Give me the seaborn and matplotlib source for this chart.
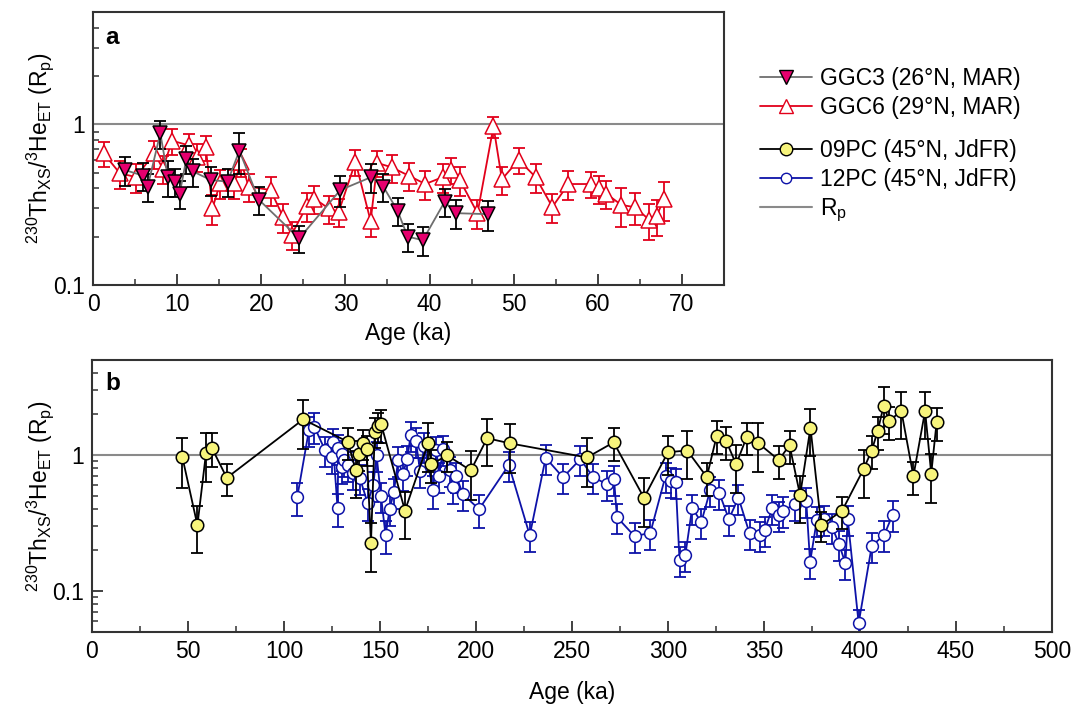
import numpy as np
import pandas as pd
import matplotlib
matplotlib.use("Agg")
import matplotlib.pyplot as plt
import seaborn as sns
from matplotlib.lines import Line2D
from matplotlib.ticker import FixedLocator, LogLocator, NullFormatter, MultipleLocator, FuncFormatter

# ---- data (age in ka, value in Rp, relative 1-sigma) ----
ggc3_age = [3.75, 5.9, 6.5, 8.0, 8.9, 9.7, 10.3, 11.1, 11.85, 14.0, 16.0, 17.4, 19.7,
            24.5, 29.4, 33.1, 34.5, 36.2, 37.4, 39.2, 41.8, 43.1, 46.9]
ggc3_val = [0.52, 0.48, 0.41, 0.88, 0.47, 0.44, 0.37, 0.61, 0.51, 0.45, 0.44, 0.685, 0.34,
            0.195, 0.39, 0.47, 0.41, 0.29, 0.20, 0.19, 0.33, 0.28, 0.276]
ggc3_err = [0.2, 0.2, 0.2, 0.2, 0.25, 0.2, 0.2, 0.2, 0.2, 0.2, 0.2, 0.28, 0.2,
            0.19, 0.22, 0.2, 0.2, 0.2, 0.2, 0.2, 0.2, 0.2, 0.21]

ggc6_age = [1.26, 3.2, 5.1, 7.3, 8.3, 9.4, 11.4, 12.4, 13.4, 14.2, 15.1, 16.8, 17.6, 18.5,
            21.1, 22.6, 23.6, 25.4, 26.3, 28.0, 29.2, 31.2, 33.0, 33.8, 35.5, 37.5, 39.5,
            41.6, 42.6, 43.6, 45.7, 47.6, 48.6, 50.6, 52.6, 54.6, 56.5, 59.2, 60.1, 61.0,
            62.8, 64.4, 66.1, 67.0, 67.9]
ggc6_val = [0.66, 0.495, 0.47, 0.66, 0.53, 0.79, 0.74, 0.63, 0.72, 0.30, 0.43, 0.43, 0.585, 0.41,
            0.39, 0.265, 0.205, 0.31, 0.345, 0.30, 0.285, 0.585, 0.25, 0.575, 0.54, 0.48, 0.425,
            0.47, 0.52, 0.45, 0.28, 0.97, 0.455, 0.60, 0.47, 0.306, 0.425, 0.425, 0.40, 0.37,
            0.315, 0.305, 0.255, 0.27, 0.345]
ggc6_err = [0.18, 0.2, 0.2, 0.2, 0.2, 0.18, 0.18, 0.2, 0.18, 0.21, 0.2, 0.2, 0.2, 0.2,
            0.2, 0.2, 0.2, 0.2, 0.2, 0.2, 0.2, 0.18, 0.2, 0.18, 0.2, 0.2, 0.2,
            0.2, 0.18, 0.2, 0.2, 0.15, 0.2, 0.18, 0.2, 0.2, 0.2, 0.18, 0.2, 0.2,
            0.27, 0.22, 0.25, 0.25, 0.27]

pc09_age = [47.1, 54.9, 59.4, 62.4, 70.2, 110.0, 133.3, 137.3, 139.0, 141.3, 143.0, 145.3,
            147.3, 148.7, 150.6, 163.0, 175.1, 176.8, 185.0, 197.3, 205.8, 217.6, 257.8,
            271.7, 287.5, 300.0, 310.0, 320.2, 325.4, 330.3, 335.5, 341.0, 346.8, 357.7,
            363.3, 368.8, 374.2, 379.8, 390.7, 401.9, 406.1, 409.2, 412.3, 415.3, 421.5,
            427.8, 433.9, 437.1, 439.9]
pc09_val = [0.96, 0.305, 1.04, 1.13, 0.68, 1.83, 1.25, 0.775, 1.02, 1.23, 1.11, 0.227,
            1.49, 1.63, 1.69, 0.39, 1.23, 0.855, 0.995, 0.77, 1.33, 1.22, 0.96,
            1.24, 0.485, 1.05, 1.08, 0.69, 1.39, 1.27, 0.854, 1.36, 1.23, 0.92,
            1.18, 0.507, 1.59, 0.305, 0.39, 0.79, 1.08, 1.50, 2.30, 1.78, 2.12,
            0.70, 2.11, 0.73, 1.74]
pc09_err = [0.40, 0.38, 0.39, 0.28, 0.27, 0.39, 0.27, 0.38, 0.25, 0.25, 0.25, 0.39,
            0.25, 0.25, 0.27, 0.38, 0.39, 0.27, 0.25, 0.39, 0.38, 0.39, 0.39,
            0.27, 0.39, 0.32, 0.38, 0.27, 0.27, 0.27, 0.38, 0.27, 0.39, 0.27,
            0.27, 0.38, 0.38, 0.25, 0.27, 0.39, 0.27, 0.27, 0.38, 0.27, 0.38,
            0.27, 0.38, 0.39, 0.27]

pc12_age = [106.9, 113.0, 115.8, 121.3, 124.8, 125.4, 127.9, 128.3, 130.0, 130.3, 131.4, 133.5,
            136.0, 139.5, 143.5, 146.5, 148.2, 150.5, 152.9, 155.0, 157.2, 159.5, 161.8,
            164.2, 166.0, 168.7, 170.9, 173.1, 177.7, 179.4, 180.8, 182.8, 186.2, 187.8,
            189.7, 193.2, 201.6, 217.1, 228.0, 236.3, 245.3, 254.4, 260.9, 268.2, 271.9,
            273.4, 282.6, 290.8, 298.7, 301.7, 304.0, 306.0, 309.0, 312.6, 317.3, 322.0,
            326.8, 331.7, 336.7, 342.5, 348.0, 350.3, 354.3, 358.0, 360.1, 365.9, 372.0,
            374.0, 377.5, 381.5, 385.5, 389.0, 392.4, 393.6, 399.3, 406.1, 412.7, 417.0]
pc12_val = [0.49, 1.53, 1.62, 1.09, 0.97, 1.25, 0.405, 1.12, 1.01, 0.82, 0.92, 0.845,
            0.74, 0.68, 0.445, 0.60, 1.00, 0.50, 0.257, 0.40, 0.535, 0.92, 0.72,
            0.94, 1.41, 1.26, 0.76, 1.16, 0.55, 1.09, 0.70, 1.11, 0.77, 0.58,
            0.70, 0.515, 0.40, 0.844, 0.257, 0.955, 0.685, 0.934, 0.69, 0.61, 0.665,
            0.35, 0.253, 0.268, 0.70, 0.64, 0.636, 0.168, 0.183, 0.41, 0.32, 0.552,
            0.522, 0.338, 0.485, 0.265, 0.257, 0.28, 0.405, 0.36, 0.39, 0.435, 0.46,
            0.163, 0.332, 0.336, 0.296, 0.223, 0.16, 0.34, 0.058, 0.214, 0.26, 0.365]
pc12_err = [0.27, 0.25, 0.25, 0.25, 0.25, 0.25, 0.27, 0.25, 0.25, 0.25, 0.25, 0.25,
            0.25, 0.25, 0.27, 0.25, 0.25, 0.25, 0.27, 0.25, 0.25, 0.25, 0.25,
            0.25, 0.25, 0.25, 0.25, 0.25, 0.27, 0.25, 0.25, 0.25, 0.25, 0.25,
            0.25, 0.25, 0.27, 0.25, 0.25, 0.25, 0.25, 0.25, 0.25, 0.25, 0.25,
            0.25, 0.25, 0.25, 0.25, 0.25, 0.25, 0.25, 0.25, 0.25, 0.25, 0.25,
            0.25, 0.25, 0.25, 0.25, 0.25, 0.25, 0.25, 0.25, 0.25, 0.25, 0.25,
            0.25, 0.25, 0.25, 0.25, 0.25, 0.25, 0.25, 0.26, 0.25, 0.25, 0.25]

# colours
PINK = "#e6006e"
RED = "#e2001a"
YELLOW = "#f7f47c"
BLUE = "#0d12a8"
GREY = "#8a8a8a"

sns.set_style("ticks")
plt.rcParams['font.family'] = ['Liberation Sans', 'DejaVu Sans']
plt.rcParams['mathtext.fontset'] = 'custom'
plt.rcParams['mathtext.rm'] = 'Liberation Sans'
plt.rcParams['mathtext.it'] = 'Liberation Sans:italic'
plt.rcParams['mathtext.bf'] = 'Liberation Sans:bold'
plt.rcParams['text.color'] = 'black'
plt.rcParams['axes.labelcolor'] = 'black'
plt.rcParams['xtick.labelcolor'] = 'black'
plt.rcParams['ytick.labelcolor'] = 'black'
FS = 16.5


def draw_series(ax, age, val, rel, line_color, err_color, marker, ms, mfc, mec, z):
    df = pd.DataFrame({"age": age, "val": val, "rel": rel})
    ax.errorbar(df["age"], df["val"], yerr=df["val"] * df["rel"], fmt="none",
                ecolor=err_color, elinewidth=1.3, capsize=4.5, capthick=1.3, zorder=z)
    sns.lineplot(data=df, x="age", y="val", ax=ax, estimator=None, errorbar=None,
                 color=line_color, lw=1.3, marker=marker, markersize=ms,
                 markerfacecolor=mfc, markeredgecolor=mec, markeredgewidth=1.1,
                 legend=False, zorder=z + 0.5)


def style_axis(ax, xmax, xmajor, xminor, ymin, xpad):
    ax.set_yscale("log")
    ax.set_xlim(0, xmax)
    ax.set_ylim(ymin, 5)
    ax.xaxis.set_major_locator(MultipleLocator(xmajor))
    ax.xaxis.set_minor_locator(MultipleLocator(xminor))
    ax.yaxis.set_major_locator(FixedLocator([0.1, 1]))
    ax.yaxis.set_major_formatter(FuncFormatter(lambda v, p: f"{v:g}"))
    ax.yaxis.set_minor_locator(LogLocator(base=10, subs=np.arange(2, 10)))
    ax.yaxis.set_minor_formatter(NullFormatter())
    ax.tick_params(which="major", direction="in", length=8, width=1.3,
                   labelsize=FS, color="#333333", labelcolor="black", pad=6)
    ax.tick_params(which="minor", direction="in", length=4.5, width=1.1, color="#333333")
    for s in ax.spines.values():
        s.set_color("#333333")
        s.set_linewidth(1.5)
    ax.axhline(1, color=GREY, lw=1.5, zorder=1)
    ax.set_xlabel("Age (ka)", fontsize=FS, labelpad=xpad)
    ax.set_ylabel(r"$^{230}$Th$_{\mathrm{XS}}$/$^{3}$He$_{\mathrm{ET}}$ (R$_{\mathrm{p}}$)", fontsize=FS)


fig = plt.figure(figsize=(10.71, 7.08), dpi=100)
ax_a = fig.add_axes([93 / 1071, 1 - 285 / 708, (724 - 93) / 1071, (285 - 12) / 708])
ax_b = fig.add_axes([92 / 1071, 1 - 632 / 708, (1052 - 92) / 1071, (632 - 360) / 708])

# panel a
draw_series(ax_a, ggc6_age, ggc6_val, ggc6_err, RED, RED, "^", 11, "white", RED, 2)
draw_series(ax_a, ggc3_age, ggc3_val, ggc3_err, "#6e6e6e", "black", "v", 10.5, PINK, "black", 3)
style_axis(ax_a, 75, 10, 5, 0.1, 4)
ax_a.text(0.02, 0.905, "a", transform=ax_a.transAxes, fontsize=17.5, fontweight="bold",
          va="center", ha="left")

# panel b
draw_series(ax_b, pc12_age, pc12_val, pc12_err, BLUE, BLUE, "o", 8.5, "white", BLUE, 2)
draw_series(ax_b, pc09_age, pc09_val, pc09_err, "black", "black", "o", 9, YELLOW, "black", 3)
style_axis(ax_b, 500, 50, 25, 0.05, 13)
ax_b.text(0.0135, 0.915, "b", transform=ax_b.transAxes, fontsize=17.5, fontweight="bold",
          va="center", ha="left")

ax_a.yaxis.set_label_coords(-0.058, 0.5)
ax_b.yaxis.set_label_coords(-0.038, 0.5)

# legends
h1 = [Line2D([], [], color="#6e6e6e", lw=1.3, marker="v", ms=10, mfc=PINK, mec="black"),
      Line2D([], [], color=RED, lw=1.3, marker="^", ms=10, mfc="white", mec=RED)]
h2 = [Line2D([], [], color="black", lw=1.3, marker="o", ms=9, mfc=YELLOW, mec="black"),
      Line2D([], [], color=BLUE, lw=1.3, marker="o", ms=7.5, mfc="white", mec=BLUE),
      Line2D([], [], color=GREY, lw=1.5)]
kw = dict(frameon=False, fontsize=FS, loc="upper left", handlelength=2.25,
          handletextpad=0.35, borderpad=0, borderaxespad=0, labelspacing=0.25)
fig.legend(h1, ["GGC3 (26°N, MAR)", "GGC6 (29°N, MAR)"],
           bbox_to_anchor=(760 / 1071, 1 - 67 / 708), **kw)
fig.legend(h2, ["09PC (45°N, JdFR)", "12PC (45°N, JdFR)", r"R$_{\mathrm{p}}$"],
           bbox_to_anchor=(760 / 1071, 1 - 139 / 708), **kw)

fig.savefig("out.png", dpi=100)
